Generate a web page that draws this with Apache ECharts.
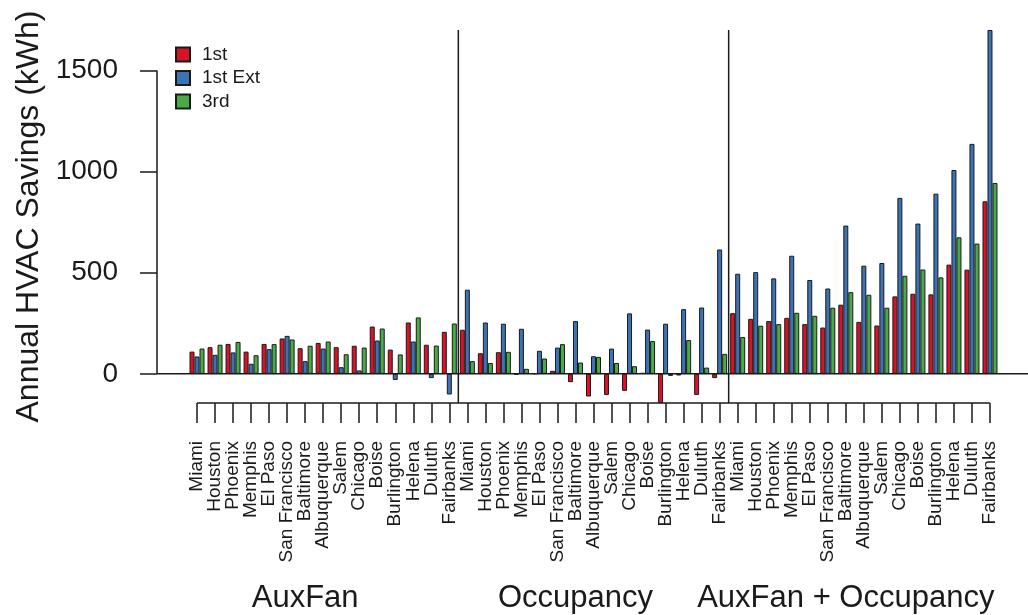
<!DOCTYPE html>
<html>
<head>
<meta charset="utf-8">
<script src="https://cdn.jsdelivr.net/npm/echarts@6/dist/echarts.min.js"></script>
<style>
  html, body { margin: 0; padding: 0; background: #ffffff; }
  #chart { width: 1028px; height: 615px; }
</style>
</head>
<body>
<div id="chart"></div>
<script>
// ---- data -------------------------------------------------------------
const cities = ['Miami', 'Houston', 'Phoenix', 'Memphis', 'El Paso', 'San Francisco',
  'Baltimore', 'Albuquerque', 'Salem', 'Chicago', 'Boise', 'Burlington',
  'Helena', 'Duluth', 'Fairbanks'];
const groups = ['AuxFan', 'Occupancy', 'AuxFan + Occupancy'];
const seriesNames = ['1st', '1st Ext', '3rd'];
const yTicks = [0, 500, 1000, 1500];

// Annual HVAC savings (kWh) per city
const auxFan1st    = [110, 132, 148, 110, 148, 175, 127, 153, 132, 139, 234, 120, 254, 144, 208];
const auxFan1stExt = [86, 94, 106, 50, 122, 188, 63, 125, 33, 17, 165, -30, 160, -21, -102];
const auxFan3rd    = [125, 144, 158, 92, 147, 170, 139, 160, 97, 130, 224, 96, 279, 140, 249];

const occ1st    = [218, 102, 107, -3, 2, 15, -41, -112, -104, -84, 5, -144, -8, -104, -21];
const occ1stExt = [416, 254, 248, 223, 114, 130, 261, 87, 125, 299, 219, 248, 320, 328, 615];
const occ3rd    = [63, 54, 109, 25, 76, 147, 56, 84, 54, 38, 162, -10, 167, 31, 99];

const both1st    = [300, 272, 261, 277, 246, 229, 342, 257, 239, 383, 396, 393, 540, 515, 853];
const both1stExt = [495, 503, 472, 584, 464, 422, 733, 535, 548, 870, 743, 891, 1008, 1137, 1700];
const both3rd    = [182, 238, 246, 302, 287, 327, 404, 391, 327, 485, 516, 477, 675, 644, 944];

// ---- assembly -----------------------------------------------------------
const categories = [].concat(cities, cities, cities);
const values = [
  [].concat(auxFan1st, occ1st, both1st),
  [].concat(auxFan1stExt, occ1stExt, both1stExt),
  [].concat(auxFan3rd, occ3rd, both3rd)
];
const allValues = [].concat(...values);
const yMin = Math.min(...allValues);
const yMax = Math.max(...allValues);

const FONT = '"Liberation Sans", Arial, Helvetica, sans-serif';
const INK = '#1a1a1a';
const COLORS = ['#D81227', '#3A73B6', '#4BAA48'];
const GRID = { left: 188, right: 29, top: 30, bottom: 212 };
const Y_OFFSET = 31;
const W = 1028;

const chart = echarts.init(document.getElementById('chart'), null, { renderer: 'canvas' });

const option = {
  animation: false,
  backgroundColor: '#ffffff',
  textStyle: { fontFamily: FONT },
  grid: Object.assign({ containLabel: false, outerBoundsMode: 'none' }, GRID),
  legend: {
    orient: 'vertical',
    left: 170,
    top: 40,
    itemWidth: 14,
    itemHeight: 14,
    itemGap: 4.5,
    icon: 'rect',
    data: seriesNames,
    textStyle: { fontSize: 19, color: INK, fontFamily: FONT, padding: [0, 0, 0, 7] }
  },
  xAxis: {
    type: 'category',
    data: categories,
    axisLine: { show: false, onZero: false },
    axisTick: { show: true, alignWithLabel: true, length: 20, lineStyle: { color: INK, width: 1.5 } },
    axisLabel: { rotate: 90, interval: 0, fontSize: 19, color: INK, margin: 38, fontFamily: FONT },
    splitLine: { show: false }
  },
  yAxis: {
    type: 'value',
    min: yMin,
    max: yMax,
    offset: Y_OFFSET,
    axisLine: { show: false },
    axisTick: { show: true, customValues: yTicks, length: 17, lineStyle: { color: INK, width: 1.5 } },
    axisLabel: {
      customValues: yTicks, fontSize: 28, color: INK, margin: 39, fontFamily: FONT,
      formatter: v => String(v)
    },
    splitLine: { show: false },
    name: 'Annual HVAC Savings (kWh)',
    nameLocation: 'middle',
    nameGap: 111,
    nameTextStyle: { fontSize: 32, color: INK, fontFamily: FONT }
  },
  series: seriesNames.map((name, k) => ({
    name: name,
    type: 'bar',
    data: values[k],
    barWidth: 5,
    barGap: '0%',
    itemStyle: { color: COLORS[k], borderColor: INK, borderWidth: 1 }
  }))
};

chart.setOption(option);

// ---- reference lines and group titles, placed through the axes' scales ----
const px = i => chart.convertToPixel({ xAxisIndex: 0 }, i);
const py = v => chart.convertToPixel({ yAxisIndex: 0 }, v);
const axisX = GRID.left - Y_OFFSET;
const n = cities.length;

const line = (x1, y1, x2, y2, w) => ({
  type: 'line',
  silent: true,
  z: 10,
  shape: { x1: x1, y1: y1, x2: x2, y2: y2 },
  style: { stroke: INK, lineWidth: w }
});

const elements = [
  // y axis spine over the tick range
  line(axisX, py(yTicks[0]), axisX, py(yTicks[yTicks.length - 1]), 1.5),
  // zero reference line
  line(axisX, py(0), W, py(0), 1.5),
  // category axis spine from first to last city
  line(px(0), py(yMin), px(categories.length - 1), py(yMin), 1.5)
];

// separators between the three measure groups
for (let g = 1; g < groups.length; g++) {
  const xs = (px(g * n - 1) + px(g * n)) / 2;
  elements.push(line(xs, py(yMax), xs, py(yMin), 1.5));
}

// group titles under the city labels
groups.forEach((name, g) => {
  elements.push({
    type: 'text',
    silent: true,
    style: {
      text: name,
      x: px(g * n + 6),
      y: 598,
      font: '31px ' + FONT,
      fill: INK,
      textAlign: 'center',
      textVerticalAlign: 'middle',
      align: 'center',
      verticalAlign: 'middle'
    }
  });
});

chart.setOption({ graphic: { elements: elements } });
</script>
</body>
</html>
